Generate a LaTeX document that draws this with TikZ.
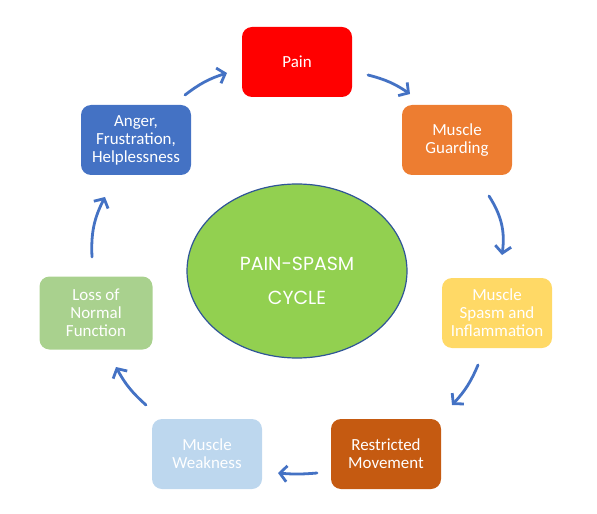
\documentclass[tikz,border=0pt]{standalone}
\usepackage{fontspec}
\setmainfont{Carlito}
\newfontfamily\cyclefont{Poppins}
\usetikzlibrary{arrows.meta,shapes.geometric}
\definecolor{painred}{HTML}{FF0000}
\definecolor{guardorange}{HTML}{ED7D31}
\definecolor{spasmyellow}{HTML}{FFD966}
\definecolor{restrictbrown}{HTML}{C55A11}
\definecolor{weakblue}{HTML}{BDD7EE}
\definecolor{lossgreen}{HTML}{A9D18E}
\definecolor{angerblue}{HTML}{4472C4}
\definecolor{cyclegreen}{HTML}{92D050}
\definecolor{ringblue}{HTML}{2F5597}
\begin{document}
\begin{tikzpicture}[x=1bp,y=-1bp,
  stage/.style={rounded corners=10bp,minimum width=110bp,minimum height=70bp,
    inner sep=0pt,align=center,text=white,font=\fontsize{17}{18}\selectfont},
  cyc/.style={draw=angerblue,line width=2.8bp,line cap=round,
    -{Straight Barb[length=7bp,width=16bp,line width=2.8bp]},bend left=#1},
  cyc/.default=15]
  \useasboundingbox (0,0) rectangle (597,514);

  \node[stage,fill=painred]       (pain)     at (297,62)  {Pain};
  \node[stage,fill=guardorange]   (guard)    at (457,140) {Muscle\\Guarding};
  \node[stage,fill=spasmyellow]   (spasm)    at (497,313) {Muscle\\Spasm and\\Inflammation};
  \node[stage,fill=restrictbrown] (restrict) at (386,454) {Restricted\\Movement};
  \node[stage,fill=weakblue]      (weak)     at (207,454) {Muscle\\Weakness};
  \node[stage,fill=lossgreen,minimum width=113bp,minimum height=73bp]
                                  (loss)     at (96,313)  {Loss of\\Normal\\Function};
  \node[stage,fill=angerblue]     (anger)    at (136,140) {Anger,\\Frustration,\\Helplessness};

  \node[ellipse,draw=ringblue,line width=1.2bp,fill=cyclegreen,
    minimum width=220bp,minimum height=174bp] (cycle) at (297,271) {};
  \node[align=center,text=white,font=\cyclefont\fontsize{19}{34}\selectfont]
    (cyclelabel) at (297,281) {PAIN-SPASM\\CYCLE};

  % arrows round the cycle
  \foreach \n/\xa/\ya/\xb/\yb/\b in {one/185/95/227/73/10, two/368/75/410/94/10,
      three/489/196/502/255/20, four/478/365/452/405/10, five/317/473/278/473/5,
      six/146/405/116/367/10, seven/92/257/105/197/15}{
    \coordinate (\n s) at (\xa,\ya);
    \coordinate (\n e) at (\xb,\yb);
    \draw[cyc=\b] (\n s) to (\n e);
  }
\end{tikzpicture}
\end{document}
